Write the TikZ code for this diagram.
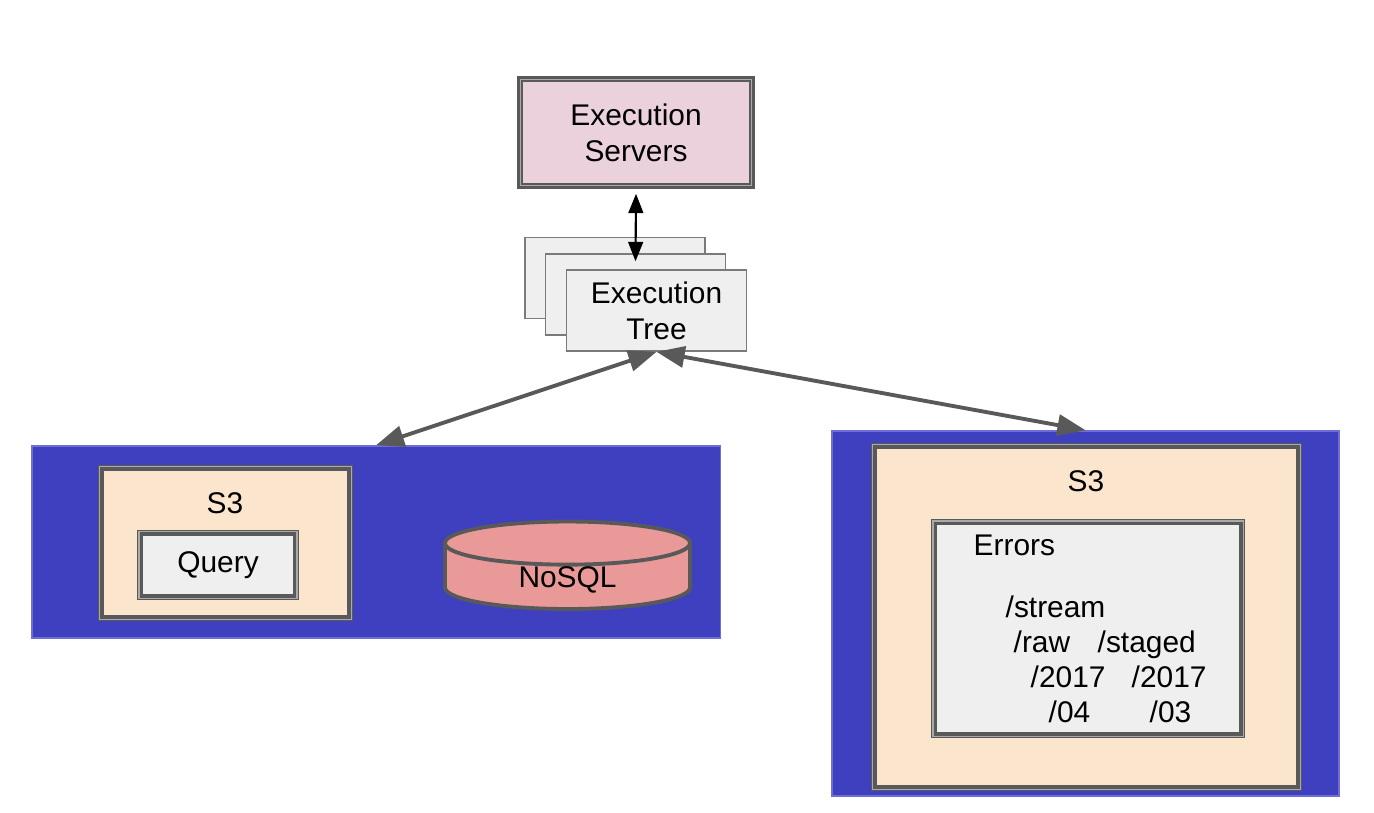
\documentclass[tikz,border=0pt]{standalone}
\usepackage{fontspec}
\setmainfont{Liberation Sans}
\usetikzlibrary{shapes.geometric, arrows.meta, positioning}
\definecolor{linegray}{RGB}{89,89,89}
\definecolor{gapgray}{RGB}{170,170,170}
\definecolor{blockblue}{RGB}{63,64,191}
\definecolor{blockedge}{RGB}{110,110,215}
\definecolor{peach}{RGB}{252,229,205}
\definecolor{panelgray}{RGB}{239,239,239}
\definecolor{serverpink}{RGB}{234,209,220}
\definecolor{nosqlred}{RGB}{234,153,153}
\tikzstyle{bus} = [rectangle, fill=blockblue, draw=blockedge, line width=0.4pt, inner sep=0pt]
\tikzstyle{framed} = [draw=linegray, line width=1.1pt,
    preaction={draw=linegray, line width=2.3pt},
    preaction={draw=gapgray, line width=1.7pt}]
\tikzstyle{bucket} = [rectangle, framed, fill=peach, inner sep=0pt]
\tikzstyle{folder} = [rectangle, framed, fill=panelgray, inner sep=0pt]
\tikzstyle{server} = [rectangle, fill=serverpink, draw=linegray, line width=0.7pt,
    double=gapgray, double distance=0.3pt, text centered, align=center]
\tikzstyle{page} = [rectangle, fill=panelgray, draw=linegray!80, line width=0.4pt,
    minimum width=1.8cm, minimum height=0.81cm, align=center]
\tikzstyle{database} = [cylinder, shape border rotate=90, aspect=0.44, draw=linegray,
    line width=1.1pt, cylinder uses custom fill, cylinder body fill=nosqlred,
    cylinder end fill=nosqlred, minimum width=2.45cm, minimum height=0.6cm,
    text depth=0pt, inner sep=0pt]
\tikzstyle{arrow} = [line width=1.1pt, draw=linegray,
    {Triangle[length=8pt,width=6pt]}-{Triangle[length=8pt,width=6pt]}]
\tikzstyle{thinarrow} = [line width=0.6pt, draw=black,
    {Triangle[length=5.5pt,width=4.2pt]}-{Triangle[length=5.5pt,width=4.2pt]}]

\begin{document}
\begin{tikzpicture}[x=0.01cm, y=-0.01cm, font=\fontsize{8.5}{10.2}\selectfont]
\useasboundingbox (0,0) rectangle (1374,812);

% Top
\node (servers) [server, minimum width=2.31cm, minimum height=1.06cm] at (636,132.5) {Execution\\Servers};
\node (tree1) [page] at (615,278) {};
\node (tree2) [page] at ([shift={(20.5,16.5)}]tree1) {};
\node (tree3) [page] at ([shift={(21,16)}]tree2) {Execution\\Tree};

% Left block
\node (bus1) [bus, minimum width=6.88cm, minimum height=1.92cm] at (376,542) {};
\node (s3a) [bucket, minimum width=2.47cm, minimum height=1.48cm] at (225.5,543) {};
\node (s3alabel) at (225,503) {S3};
\node (query) [folder, minimum width=1.53cm, minimum height=0.62cm] at (218,565.3) {Query};
\node (nosql) [database] at (567.5,577) {NoSQL};

% Right block
\node (bus2) [bus, minimum width=5.07cm, minimum height=3.65cm] at (1085.5,613.5) {};
\node (s3b) [bucket, minimum width=4.23cm, minimum height=3.40cm] at (1086.5,617) {};
\node (s3blabel) at (1086,481) {S3};
\node (errors) [folder, minimum width=3.05cm, minimum height=2.10cm] at (1088,628.5) {};
\node (errtitle) [anchor=base west, inner sep=0pt] at (973,555) {Errors};
\node (stream) [anchor=base west, inner sep=0pt] at (1005,617) {/stream};
\node (raw) [anchor=base west, inner sep=0pt] at (1013,652) {/raw};
\node (staged) [anchor=base west, inner sep=0pt] at (1097,652) {/staged};
\node (rawyear) [anchor=base west, inner sep=0pt] at (1030,687) {/2017};
\node (stagedyear) [anchor=base west, inner sep=0pt] at (1131,687) {/2017};
\node (rawmonth) [anchor=base west, inner sep=0pt] at (1048,722) {/04};
\node (stagedmonth) [anchor=base west, inner sep=0pt] at (1149,722) {/03};

% Arrows
\draw [thinarrow] ([yshift=-0.07cm]servers.south) -- ([yshift=-0.08cm]tree2.north);
\draw [arrow] (bus1.north) -- (tree3.south);
\draw [arrow] (tree3.south) -- (bus2.north);

\end{tikzpicture}
\end{document}
